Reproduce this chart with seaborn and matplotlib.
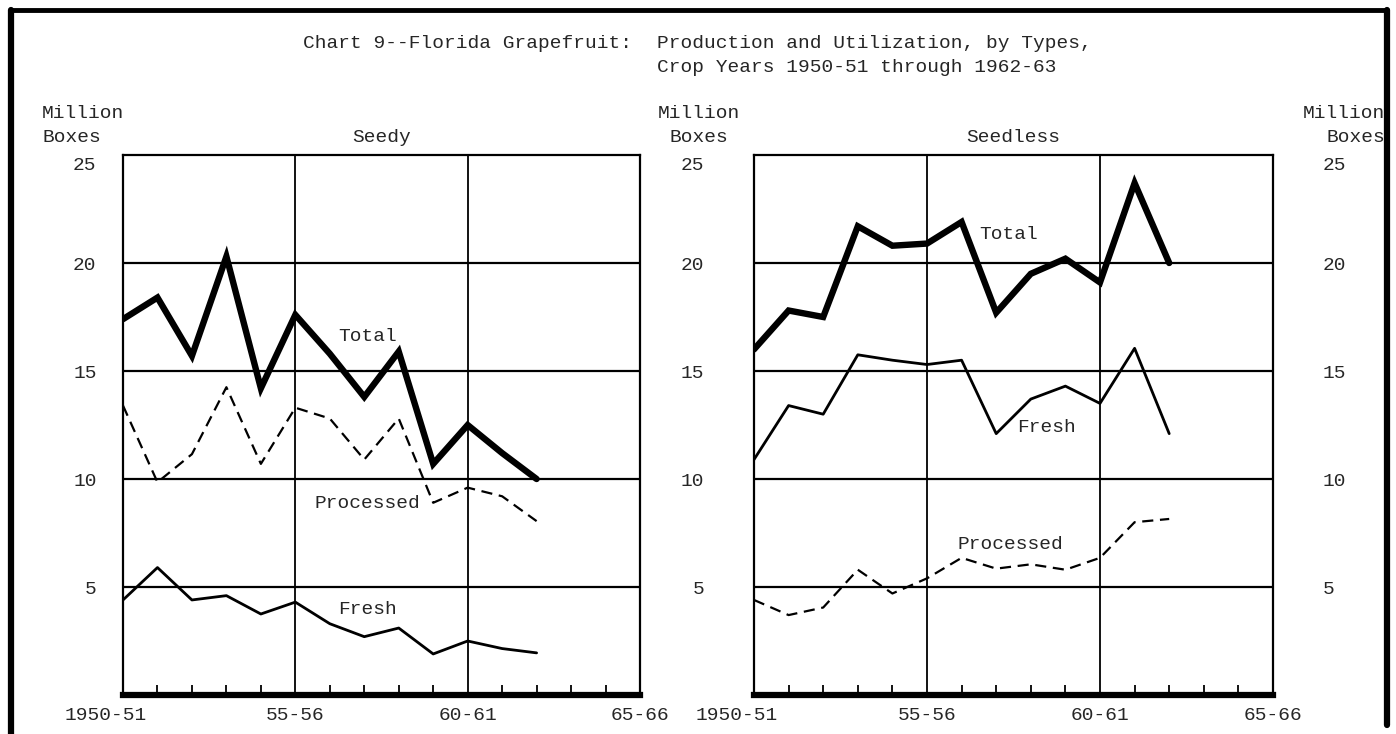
import numpy as np
import pandas as pd
import matplotlib
matplotlib.use("Agg")
import matplotlib.pyplot as plt
import matplotlib.transforms as mtransforms
from matplotlib.ticker import MultipleLocator
import seaborn as sns

# crop years (start year of each season), 1950-51 .. 1962-63
years = [1950, 1951, 1952, 1953, 1954, 1955, 1956, 1957, 1958, 1959, 1960, 1961, 1962]

# Seedy, million boxes
seedy_total = [17.4, 18.4, 15.7, 20.3, 14.2, 17.6, 15.8, 13.8, 15.9, 10.7, 12.5, 11.2, 10.0]
seedy_processed = [13.4, 9.85, 11.15, 14.25, 10.7, 13.3, 12.8, 10.9, 12.8, 8.9, 9.6, 9.2, 8.05]
seedy_fresh = [4.4, 5.9, 4.4, 4.6, 3.75, 4.3, 3.3, 2.7, 3.1, 1.9, 2.5, 2.15, 1.95]

# Seedless, million boxes
seedless_total = [16.0, 17.8, 17.5, 21.7, 20.8, 20.9, 21.9, 17.7, 19.5, 20.2, 19.1, 23.7, 20.0]
seedless_fresh = [10.9, 13.4, 13.0, 15.75, 15.5, 15.3, 15.5, 12.1, 13.7, 14.3, 13.5, 16.05, 12.1]
seedless_processed = [4.4, 3.7, 4.05, 5.8, 4.7, 5.4, 6.35, 5.85, 6.05, 5.8, 6.35, 8.0, 8.15]

xtick_pos = [1950, 1955, 1960, 1965]
xtick_labels = ["1950-51", "55-56", "60-61", "65-66"]
ytick_pos = [5, 10, 15, 20, 25]

sns.set_style("white")
plt.rcParams["font.family"] = ["Liberation Mono", "DejaVu Sans Mono"]
FS = 14

W, H = 1396, 734
fig = plt.figure(figsize=(W / 100, H / 100), dpi=100)


def fx(px):
    return px / W


def fy(py):
    return 1 - py / H


ax1 = fig.add_axes([fx(123), fy(695), 517 / W, 540 / H])
ax2 = fig.add_axes([fx(754), fy(695), 519 / W, 540 / H])


def style_panel(ax, title, right_labels=False, pad=19):
    ax.set_xlim(1950, 1965)
    ax.set_ylim(0, 25)
    ax.set_xticks(xtick_pos)
    ax.set_xticklabels(xtick_labels)
    ax.set_yticks(ytick_pos)
    ax.set_yticklabels([str(v) for v in ytick_pos])
    ax.xaxis.set_minor_locator(MultipleLocator(1))
    ax.tick_params(axis="x", which="major", length=0, pad=9, labelsize=FS)
    ax.tick_params(axis="x", which="minor", direction="in", length=7.5,
                   width=1.3, color="black", bottom=True)
    ax.tick_params(axis="y", length=0, pad=pad, labelsize=FS,
                   labelleft=True, labelright=right_labels)
    ax.set_xlabel("")
    ax.set_ylabel("")
    for y in [5, 10, 15, 20]:
        ax.axhline(y, color="black", lw=1.6, zorder=1)
    for x in [1955, 1960]:
        ax.axvline(x, color="black", lw=1.3, zorder=1)
    for s in ["top", "left", "right"]:
        ax.spines[s].set_linewidth(1.6)
        ax.spines[s].set_color("black")
    ax.spines["bottom"].set_linewidth(4.5)
    ax.spines["bottom"].set_color("black")
    ax.text(0.5, 1.033, title, transform=ax.transAxes, ha="center",
            va="center", fontsize=FS)
    # first year label sits a bit left of its tick
    first = ax.get_xticklabels()[0]
    first.set_transform(first.get_transform() + mtransforms.ScaledTranslation(
        -0.17, 0, fig.dpi_scale_trans))
    # the top value label is typed a little below the frame
    down = mtransforms.ScaledTranslation(0, -0.08, fig.dpi_scale_trans)
    tick25 = ax.yaxis.get_major_ticks()[-1]
    tick25.label1.set_transform(tick25.label1.get_transform() + down)
    tick25.label2.set_transform(tick25.label2.get_transform() + down)


style_panel(ax1, "Seedy", pad=19)
style_panel(ax2, "Seedless", right_labels=True, pad=36)

dash = (0, (5, 3))

# Seedy panel
sns.lineplot(x=years, y=seedy_total, ax=ax1, color="black", linewidth=4.6,
             solid_joinstyle="miter", zorder=3)
sns.lineplot(x=years, y=seedy_processed, ax=ax1, color="black", linewidth=1.6,
             linestyle=dash, zorder=3)
sns.lineplot(x=years, y=seedy_fresh, ax=ax1, color="black", linewidth=2.0,
             zorder=3)
ax1.text(1957.1, 16.6, "Total", ha="center", va="center", fontsize=FS)
ax1.text(1957.1, 8.85, "Processed", ha="center", va="center", fontsize=FS)
ax1.text(1957.1, 3.95, "Fresh", ha="center", va="center", fontsize=FS)

# Seedless panel
sns.lineplot(x=years, y=seedless_total, ax=ax2, color="black", linewidth=4.6,
             solid_joinstyle="miter", zorder=3)
sns.lineplot(x=years, y=seedless_fresh, ax=ax2, color="black", linewidth=2.0,
             zorder=3)
sns.lineplot(x=years, y=seedless_processed, ax=ax2, color="black", linewidth=1.6,
             linestyle=dash, zorder=3)
ax2.text(1957.35, 21.3, "Total", ha="center", va="center", fontsize=FS)
ax2.text(1958.45, 12.4, "Fresh", ha="center", va="center", fontsize=FS)
ax2.text(1957.4, 6.95, "Processed", ha="center", va="center", fontsize=FS)

for ax in (ax1, ax2):
    ax.set_xlim(1950, 1965)
    ax.set_ylim(0, 25)

# title
fig.text(fx(632), fy(43), "Chart 9--Florida Grapefruit:", ha="right", va="center", fontsize=FS)
fig.text(fx(657), fy(43), "Production and Utilization, by Types,", ha="left", va="center", fontsize=FS)
fig.text(fx(657), fy(68), "Crop Years 1950-51 through 1962-63", ha="left", va="center", fontsize=FS)

# unit labels
fig.text(fx(42), fy(113), "Million", ha="left", va="center", fontsize=FS)
fig.text(fx(42), fy(137), "Boxes", ha="left", va="center", fontsize=FS)
fig.text(fx(699), fy(113), "Million", ha="center", va="center", fontsize=FS)
fig.text(fx(699), fy(137), "Boxes", ha="center", va="center", fontsize=FS)
fig.text(fx(1385), fy(113), "Million", ha="right", va="center", fontsize=FS)
fig.text(fx(1385), fy(137), "Boxes", ha="right", va="center", fontsize=FS)

# page frame
fig.add_artist(plt.Line2D([fx(11), fx(11)], [0, fy(10)], color="black", lw=4.5))
fig.add_artist(plt.Line2D([fx(11), fx(1387)], [fy(10), fy(10)], color="black", lw=3.5))
fig.add_artist(plt.Line2D([fx(1387), fx(1387)], [fy(10), fy(725)], color="black", lw=4.5))

fig.savefig("out.png", dpi=100)
